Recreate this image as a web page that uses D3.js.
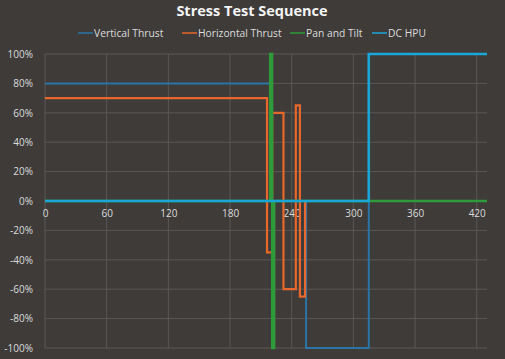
<!DOCTYPE html>
<html><head><meta charset="utf-8">
<script src="https://cdn.jsdelivr.net/npm/d3@7"></script>
<style>
html,body{margin:0;padding:0;background:#3e3b39;}
svg{display:block;}
</style></head>
<body>
<svg id="c" width="505" height="359"></svg>
<script>
const seriesNames = ["Vertical Thrust", "Horizontal Thrust", "Pan and Tilt", "DC HPU"];
const seriesColors = ["#2a74a6", "#e8672c", "#2f9a3a", "#1ba6d8"];
const xTicks = [0, 60, 120, 180, 240, 300, 360, 420];
const yTicks = [-100, -80, -60, -40, -20, 0, 20, 40, 60, 80, 100];

const vtTime = [0, 219, 254, 315, 430];
const vtVal  = [80, 0, -100, 100, 100];
const htTime = [0, 216, 221, 232, 244, 248, 253, 430];
const htVal  = [70, -35, 60, -60, 65, -65, 0, 0];
const ptTime = [0, 219, 221, 223, 430];
const ptVal  = [0, 100, -100, 0, 0];
const dcTime = [0, 315, 430];
const dcVal  = [0, 100, 100];

const svg = d3.select("#c");
const W = 505, H = 359;
const m = {l: 45, r: 18, t: 54, b: 11};
const x = d3.scaleLinear().domain([0, 430]).range([m.l, W - m.r]);
const y = d3.scaleLinear().domain([-100, 100]).range([H - m.b, m.t]);

svg.append("rect").attr("width", W).attr("height", H).attr("fill", "#3e3b39");

const g = svg.append("g");
g.selectAll("line.h").data(yTicks).join("line")
  .attr("x1", m.l).attr("x2", W - m.r)
  .attr("y1", d => y(d)).attr("y2", d => y(d))
  .attr("stroke", "#5a5856").attr("stroke-width", 1);
g.selectAll("line.v").data(xTicks).join("line")
  .attr("x1", d => x(d)).attr("x2", d => x(d))
  .attr("y1", y(100)).attr("y2", y(-100))
  .attr("stroke", "#5a5856").attr("stroke-width", 1);

const yAxis = d3.axisLeft(y).tickValues(yTicks).tickFormat(d => d + "%").tickSize(0).tickPadding(0);
const ya = svg.append("g").attr("transform", `translate(${m.l - 12},0)`).call(yAxis);
ya.select(".domain").remove();
ya.selectAll("text").attr("fill", "#dcdcdc").style("font-family", "Open Sans, sans-serif").style("font-size", "10px");

const xAxis = d3.axisBottom(x).tickValues(xTicks).tickSize(0).tickPadding(0);
const xa = svg.append("g").attr("transform", `translate(0,${y(0) + 9})`).call(xAxis);
xa.select(".domain").remove();
xa.selectAll("text").attr("fill", "#dcdcdc").style("font-family", "Open Sans, sans-serif").style("font-size", "10px");

const data = [
  {t: vtTime, v: vtVal, w: 2},
  {t: htTime, v: htVal, w: 2.2},
  {t: ptTime, v: ptVal, w: 2.4},
  {t: dcTime, v: dcVal, w: 2.5}
];
const line = d3.line().x(d => x(d[0])).y(d => y(d[1])).curve(d3.curveStepAfter);
data.forEach((s, i) => {
  const pts = s.t.map((t, j) => [t, s.v[j]]);
  svg.append("path").datum(pts).attr("d", line)
    .attr("fill", "none").attr("stroke", seriesColors[i])
    .attr("stroke-width", s.w).attr("stroke-linejoin", "miter");
});

svg.append("text").attr("x", 252).attr("y", 16).attr("text-anchor", "middle")
  .attr("fill", "#f4f4f4").style("font-family", "Open Sans, sans-serif")
  .style("font-size", "14.5px").style("font-weight", "bold").text("Stress Test Sequence");

const legX = [78, 182, 290, 372];
const leg = svg.append("g");
seriesNames.forEach((n, i) => {
  leg.append("line").attr("x1", legX[i]).attr("x2", legX[i] + 15)
    .attr("y1", 33).attr("y2", 33).attr("stroke", seriesColors[i]).attr("stroke-width", 1.5);
  leg.append("text").attr("x", legX[i] + 16).attr("y", 37)
    .attr("fill", "#dcdcdc").style("font-family", "Open Sans, sans-serif")
    .style("font-size", "10.3px").text(n);
});
</script>
</body></html>
